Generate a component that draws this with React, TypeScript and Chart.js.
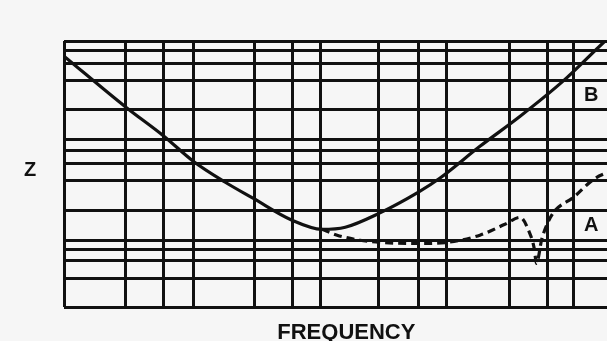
import React, { useEffect, useRef } from "react";
import { Chart, registerables } from "chart.js";

Chart.register(...registerables);

// Grid line positions (arbitrary normalised units, 0..100)
const xGridTicks = [0, 11.4, 18.4, 23.8, 35.0, 42.0, 47.2, 58.0, 65.2, 70.5, 82.0, 89.0, 93.9];
const yGridTicks = [0, 10.7, 17.3, 21.6, 25.1, 36.4, 47.6, 54.1, 58.7, 62.9, 74.2, 85.0, 91.7, 96.5, 100];

// Curve B (solid)
const curveBX = [0, 11.4, 18.4, 23.8, 29.7, 34.8, 42.0, 47.5, 51.8, 58.0, 65.2, 69.2, 76.6, 84.0, 91.9, 99.6, 100.2];
const curveBY = [94.3, 75.1, 64.2, 54.8, 46.9, 40.9, 32.6, 29.2, 30.0, 35.2, 43.1, 48.4, 60.4, 71.7, 84.9, 99.9, 101.0];

// Curve A (dashed)
const curveAX = [47.5, 50.3, 54.5, 58.2, 65.2, 70.5, 76.6, 81.2, 84.0, 85.6, 86.6, 87.0, 88.0, 89.3, 90.5, 93.8, 97.6, 100.5];
const curveAY = [29.2, 27.0, 25.1, 24.3, 23.9, 24.3, 27.0, 31.1, 33.7, 28.6, 22.0, 16.4, 25.6, 32.6, 36.4, 41.2, 48.1, 51.0];

const labels = { y: "Z", x: "FREQUENCY", a: "A", b: "B" };

const INK = "#111111";

export default function App() {
  const ref = useRef<HTMLCanvasElement | null>(null);

  useEffect(() => {
    document.body.style.margin = "0";
    document.body.style.background = "#f6f6f6";
    const canvas = ref.current;
    if (!canvas) return;

    const textPlugin = {
      id: "texts",
      afterDraw(chart: any) {
        const { ctx } = chart;
        const xs = chart.scales.x;
        const ys = chart.scales.y;
        ctx.save();
        ctx.fillStyle = INK;
        ctx.textAlign = "center";
        ctx.textBaseline = "middle";
        ctx.font = "bold 20px 'Liberation Sans', Arial, sans-serif";
        ctx.fillText(labels.y, chart.chartArea.left - 34, ys.getPixelForValue(51.3));
        ctx.fillText(labels.b, xs.getPixelForValue(97.1), ys.getPixelForValue(79.7));
        ctx.fillText(labels.a, xs.getPixelForValue(97.1), ys.getPixelForValue(30.6));
        ctx.font = "bold 22px 'Liberation Sans', Arial, sans-serif";
        ctx.fillText(labels.x, xs.getPixelForValue(52.0), chart.chartArea.bottom + 26);
        ctx.restore();
      },
    };

    const chart = new Chart(canvas, {
      type: "line",
      data: {
        datasets: [
          {
            label: "B",
            data: curveBX.map((x, i) => ({ x, y: curveBY[i] })),
            borderColor: INK,
            borderWidth: 3.2,
            pointRadius: 0,
            cubicInterpolationMode: "monotone",
            fill: false,
          },
          {
            label: "A",
            data: curveAX.map((x, i) => ({ x, y: curveAY[i] })),
            borderColor: INK,
            borderWidth: 3.2,
            borderDash: [8, 5],
            pointRadius: 0,
            cubicInterpolationMode: "monotone",
            fill: false,
          },
        ],
      },
      options: {
        animation: false,
        responsive: false,
        events: [],
        layout: { padding: { left: 64, top: 41, right: 0, bottom: 34 } },
        plugins: { legend: { display: false }, tooltip: { enabled: false } },
        scales: {
          x: {
            type: "linear",
            min: 0,
            max: 100,
            afterBuildTicks: (axis: any) => {
              axis.ticks = xGridTicks.map((v) => ({ value: v }));
            },
            ticks: { display: false },
            grid: { color: INK, lineWidth: 3, drawTicks: false },
            border: { display: false },
          },
          y: {
            type: "linear",
            min: 0,
            max: 100,
            afterBuildTicks: (axis: any) => {
              axis.ticks = yGridTicks.map((v) => ({ value: v }));
            },
            ticks: { display: false },
            grid: { color: INK, lineWidth: 3, drawTicks: false },
            border: { display: false },
          },
        },
      },
      plugins: [textPlugin],
    });

    return () => chart.destroy();
  }, []);

  return <canvas ref={ref} width={607} height={341} style={{ display: "block" }} />;
}
